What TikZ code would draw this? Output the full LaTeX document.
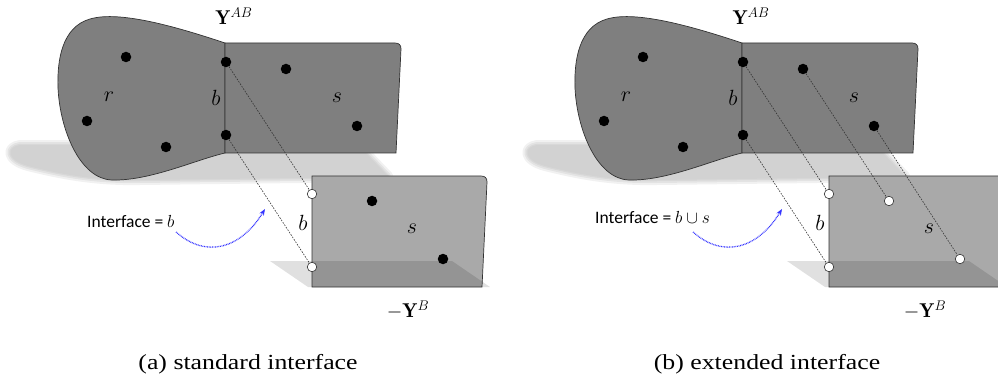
\RequirePackage{fix-cm}
\documentclass[tikz,border=0pt]{standalone}
\usepackage{fontspec}
\usepackage{graphicx}
\newfontfamily\calib{Carlito}
\newfontfamily\timesf{Liberation Serif}
\usetikzlibrary{arrows.meta}
\definecolor{darkfill}{HTML}{7F7F7F}
\definecolor{lightfill}{HTML}{A9A9A9}
\definecolor{shadowc}{HTML}{D2D2D2}
\definecolor{edgec}{HTML}{333333}
\definecolor{arrowblue}{HTML}{3535FF}
\tikzset{
  blackdot/.style={circle, fill=black, minimum size=10.5pt, inner sep=0pt},
  opendot/.style={circle, fill=white, draw=edgec, line width=0.6pt, minimum size=9.5pt, inner sep=0pt},
  conn/.style={draw=edgec, line width=0.6pt, dash pattern=on 1.6pt off 1.3pt},
  mathlbl/.style={inner sep=0pt, font=\fontsize{22}{26}\selectfont},
  ylbl/.style={inner sep=0pt, font=\fontsize{20}{24}\selectfont},
  ifacelbl/.style={inner sep=0pt, anchor=west, font=\calib\fontsize{17.5}{20}\selectfont},
  caplbl/.style={inner sep=0pt, font=\timesf\fontsize{21.5}{24}\selectfont},
  bluearrow/.style={draw=arrowblue, line width=1.3pt, dash pattern=on 0.8pt off 0.8pt,
     -{Stealth[length=6.5pt,width=5pt]}},
  shapeedge/.style={draw=edgec, line width=0.7pt},
}
\newcommand\uppershadow{(20,145) .. controls (6,147) and (6,160) .. (28,166) .. controls (60,174) and (95,181) .. (140,180) -- (300,178) -- (388,176) -- (364,151) -- (225,146) -- cycle}
\newcommand\blobpath{(225,43) .. controls (180,28) and (120,10) .. (90,19) .. controls (62,27) and (57,60) .. (58,88) .. controls (60,130) and (80,179) .. (112,180) .. controls (150,181) and (195,160) .. (225,153) -- cycle}
\newcommand\rectpath{(225,43) -- (395,43) .. controls (399,43) and (401,45) .. (401,49) -- (396,153) -- (225,153) -- cycle}
\newcommand\lowrectpath{(312,176) -- (481,176) .. controls (485,176) and (487,178) .. (487,182) -- (482,287) -- (312,287) -- cycle}
\newcommand\panelcommon[1]{%
  % soft shadow of the upper shape
  \draw[shadowc, opacity=0.3, line width=10pt, line join=round] \uppershadow;
  \draw[shadowc, opacity=0.45, line width=6pt, line join=round] \uppershadow;
  \draw[shadowc, opacity=0.65, line width=2.5pt, line join=round] \uppershadow;
  \fill[shadowc] \uppershadow;
  % upper shape
  \path[fill=darkfill, shapeedge] \blobpath;
  \path[fill=darkfill, shapeedge] \rectpath;
  % lower rectangle
  \fill[lightfill] \lowrectpath;
  \fill[black, opacity=0.12] (270,261) -- (452,261) -- (490,287) -- (308,287) -- cycle;
  \draw[shapeedge] \lowrectpath;
  % points of the upper shape
  \node[blackdot] (#1u1) at (126,57) {};
  \node[blackdot] (#1u2) at (87,121) {};
  \node[blackdot] (#1u3) at (166,147) {};
  \node[blackdot] (#1b1) at (226,62) {};
  \node[blackdot] (#1b2) at (226,135) {};
  \node[blackdot] (#1s1) at (286,69) {};
  \node[blackdot] (#1s2) at (357,126) {};
  % interface copies on the lower rectangle
  \node[opendot] (#1l1) at (312,194) {};
  \node[opendot] (#1l2) at (312,267) {};
  \draw[conn] (#1b1) -- (#1l1);
  \draw[conn] (#1b2) -- (#1l2);
  % labels
  \node[mathlbl] (#1r) at (109,97) {$r$};
  \node[mathlbl] (#1bt) at (216,98) {$b$};
  \node[mathlbl] (#1st) at (337,98) {$s$};
  \node[mathlbl] (#1bl) at (303,223) {$b$};
  \node[mathlbl] (#1sl) at (412,229) {$s$};
  \node[ylbl] (#1Yab) at (234,16) {$\mathbf{Y}^{AB}$};
  \node[ylbl] (#1Yb) at (408,310) {$-\mathbf{Y}^{B}$};
}
\begin{document}
\begin{tikzpicture}[x=1pt, y=-1pt]
\useasboundingbox (0,0) rectangle (998,382);
\clip (0,0) rectangle (998,382);
% ---------------- panel (a)
\panelcommon{a}
\node[blackdot] (al3) at (372,201) {};
\node[blackdot] (al4) at (443,259) {};
\node[ifacelbl] (aif) at (87,221) {Interface = $b$};
\coordinate (aas) at (176,232);
\coordinate (aae) at (265,209);
\draw[bluearrow] (aas) .. controls (205,258) and (240,250) .. (aae);
\node[caplbl] (acap) at (248,364) {\scalebox{1.2}[1]{(a) standard interface}};
% ---------------- panel (b)
\begin{scope}[shift={(517,0)}]
\panelcommon{b}
\node[opendot] (bl3) at (372,201) {};
\node[opendot] (bl4) at (443,259) {};
\draw[conn] (bs1) -- (bl3);
\draw[conn] (bs2) -- (bl4);
\node[ifacelbl] (bif) at (78,217) {Interface = $b \cup s$};
\coordinate (bas) at (176,232);
\coordinate (bae) at (265,209);
\draw[bluearrow] (bas) .. controls (205,258) and (240,250) .. (bae);
\node[caplbl] (bcap) at (250,364) {\scalebox{1.2}[1]{(b) extended interface}};
\end{scope}
\end{tikzpicture}
\end{document}
